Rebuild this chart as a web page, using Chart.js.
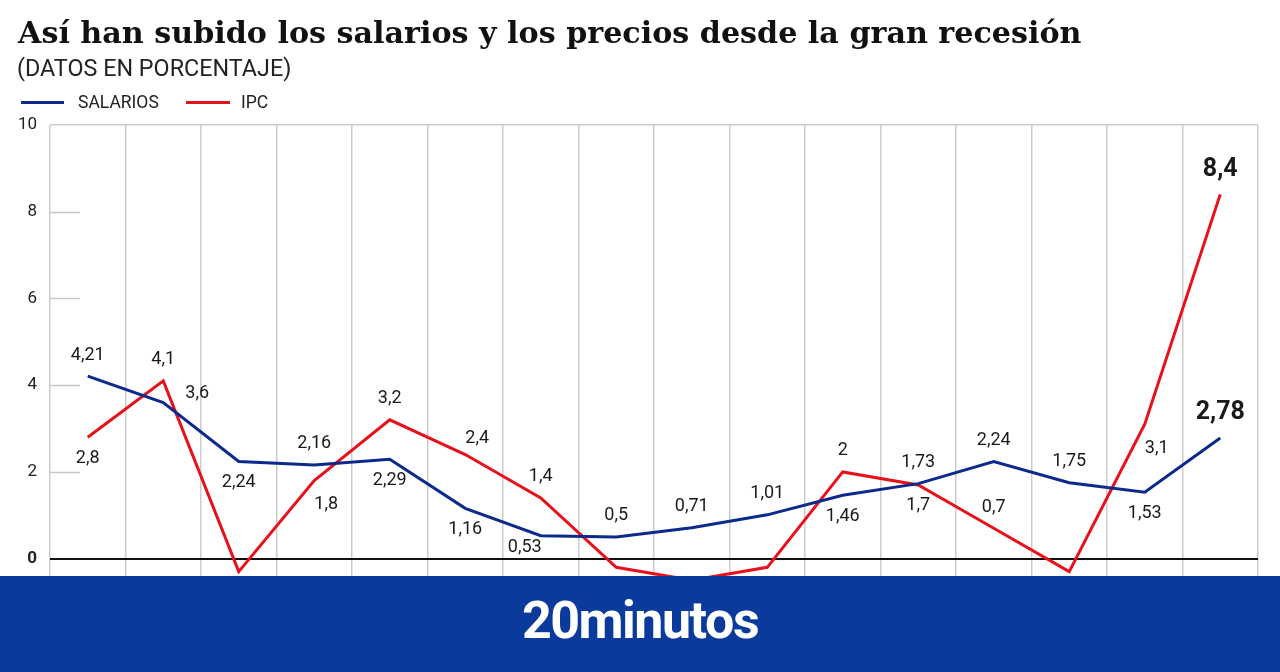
<!DOCTYPE html>
<html lang="es">
  <head>
    <meta charset="UTF-8">
    <title>Salarios e IPC</title>
    <style>
      html, body { margin: 0; padding: 0; background: #fff; }
      body { width: 1280px; height: 672px; position: relative; overflow: hidden; font-family: Roboto, sans-serif; }
      #wrap { position: absolute; left: 0; top: 0; width: 1280px; height: 672px; }
      h1 { position: absolute; left: 18px; top: 15px; margin: 0; font: bold 30px "DejaVu Serif", serif; color: #111; white-space: nowrap; transform-origin: left top; line-height: 36px; }
      .sub { position: absolute; left: 17px; top: 55px; font: 23px Roboto, sans-serif; color: #222; transform-origin: left top; white-space: nowrap; }
      .legend { position: absolute; left: 0; top: 92px; height: 20px; }
      .legend span.ln { position: absolute; top: 9px; height: 3px; }
      .legend span.tx { position: absolute; top: 0; font: 17.5px Roboto, sans-serif; line-height: 20px; color: #222; white-space: nowrap; }
      #banner { position: absolute; left: 0; top: 576px; width: 1280px; height: 96px; background: #0a3a9c; color: #fff; text-align: center; font: bold 52px Roboto, sans-serif; line-height: 90px; letter-spacing: -1.5px; }
    </style>
    <script src="https://cdn.jsdelivr.net/npm/chart.js"></script>
  </head>

  <body>
    <div id="wrap"><canvas id="myChart"></canvas></div>

    <h1 id="title">Así han subido los salarios y los precios desde la gran recesión</h1>
    <div class="sub" id="sub">(DATOS EN PORCENTAJE)</div>
    <div class="legend">
      <span class="ln" style="left:21px; width:43px; background:#0b2a8c;"></span>
      <span class="tx" style="left:78px;">SALARIOS</span>
      <span class="ln" style="left:186px; width:44px; background:#e8101a;"></span>
      <span class="tx" style="left:241px;">IPC</span>
    </div>
    <div id="banner">20minutos</div>

<script>
  const years = ['2007', '2008', '2009', '2010', '2011', '2012', '2013', '2014',
                 '2015', '2016', '2017', '2018', '2019', '2020', '2021', '2022'];
  const salarios = [4.21, 3.6, 2.24, 2.16, 2.29, 1.16, 0.53, 0.5, 0.71, 1.01, 1.46, 1.73, 2.24, 1.75, 1.53, 2.78];
  const ipc = [2.8, 4.1, -0.3, 1.8, 3.2, 2.4, 1.4, -0.2, -0.5, -0.2, 2, 1.7, 0.7, -0.3, 3.1, 8.4];
  const yTicks = [0, 2, 4, 6, 8, 10];

  // where each value label sits relative to its point
  const salariosPos = ['t', 'r', 'b', 't', 'b', 'b', 'bl', 't', 't', 't', 'b', 't', 't', 't', 'b', 't'];
  const ipcPos = ['b', 't', 'b', 'br', 't', 'tr', 't', 'b', 'b', 'b', 't', 'b', 't', 'b', 'br', 't'];

  const offsets = {
    t: [0, -21], b: [0, 21], r: [34, -9],
    bl: [-16, 12], br: [12, 24], tr: [12, -16]
  };

  // squeeze the header texts to the widths seen in the original
  function fitWidth(id, w) {
    const el = document.getElementById(id);
    el.style.transform = 'scaleX(' + (w / el.offsetWidth) + ')';
  }
  fitWidth('title', 1064);
  fitWidth('sub', 274);

  const valueLabels = {
    id: 'valueLabels',
    afterDatasetsDraw(chart) {
      const ctx = chart.ctx;
      ctx.save();
      ctx.textAlign = 'center';
      ctx.textBaseline = 'middle';
      chart.data.datasets.forEach((ds, di) => {
        const meta = chart.getDatasetMeta(di);
        meta.data.forEach((pt, i) => {
          const last = i === ds.data.length - 1;
          const off = offsets[ds.labelPos[i]];
          ctx.fillStyle = '#1a1a1a';
          ctx.font = last ? 'bold 25px Roboto' : '18px Roboto';
          const dy = last ? off[1] - 4 : off[1];
          ctx.fillText(String(ds.data[i]).replace('.', ','), pt.x + off[0], pt.y + dy);
        });
      });
      ctx.restore();
    }
  };

  // short grey marks at the left edge for 2..8
  const shortTicks = {
    id: 'shortTicks',
    beforeDatasetsDraw(chart) {
      const ctx = chart.ctx;
      const y = chart.scales.y;
      const left = chart.chartArea.left;
      ctx.save();
      ctx.strokeStyle = '#c8c8c8';
      ctx.lineWidth = 1.5;
      yTicks.filter(v => v > 0 && v < 10).forEach(v => {
        const py = Math.round(y.getPixelForValue(v)) + 0.5;
        ctx.beginPath();
        ctx.moveTo(left, py);
        ctx.lineTo(left + 30, py);
        ctx.stroke();
      });
      ctx.restore();
    }
  };

  const ctx = document.getElementById('myChart');

  new Chart(ctx, {
    type: 'line',
    data: {
      labels: years,
      datasets: [
        {
          label: 'SALARIOS',
          data: salarios,
          labelPos: salariosPos,
          borderColor: '#0b2a8c',
          borderWidth: 3,
          pointRadius: 0,
          tension: 0,
        },
        {
          label: 'IPC',
          data: ipc,
          labelPos: ipcPos,
          borderColor: '#e8101a',
          borderWidth: 3,
          pointRadius: 0,
          tension: 0,
        },
      ]
    },
    options: {
      responsive: true,
      maintainAspectRatio: false,
      animation: false,
      layout: { padding: { top: 125, right: 22, bottom: 70, left: 0 } },
      plugins: {
        legend: { display: false },
        tooltip: { enabled: false },
      },
      scales: {
        x: {
          offset: true,
          ticks: { display: false },
          border: { display: false },
          grid: {
            offset: true,
            color: '#cccccc',
            lineWidth: 1.5,
            drawTicks: false,
          },
        },
        y: {
          min: -1,
          max: 10,
          afterFit: (scale) => { scale.width = 50; },
          afterBuildTicks: (scale) => { scale.ticks = yTicks.map(v => ({ value: v })); },
          border: { display: false },
          grid: {
            drawTicks: false,
            color: (c) => c.tick.value === 0 ? '#111' : (c.tick.value === 10 ? '#cccccc' : 'rgba(0,0,0,0)'),
            lineWidth: (c) => c.tick.value === 0 ? 2 : 1.5,
          },
          ticks: {
            padding: 13,
            color: '#222',
            font: (c) => ({ family: 'Roboto', size: 17, weight: c.tick && c.tick.value === 0 ? 'bold' : 'normal' }),
          },
        },
      }
    },
    plugins: [shortTicks, valueLabels]
  });
</script>

  </body>
</html>
